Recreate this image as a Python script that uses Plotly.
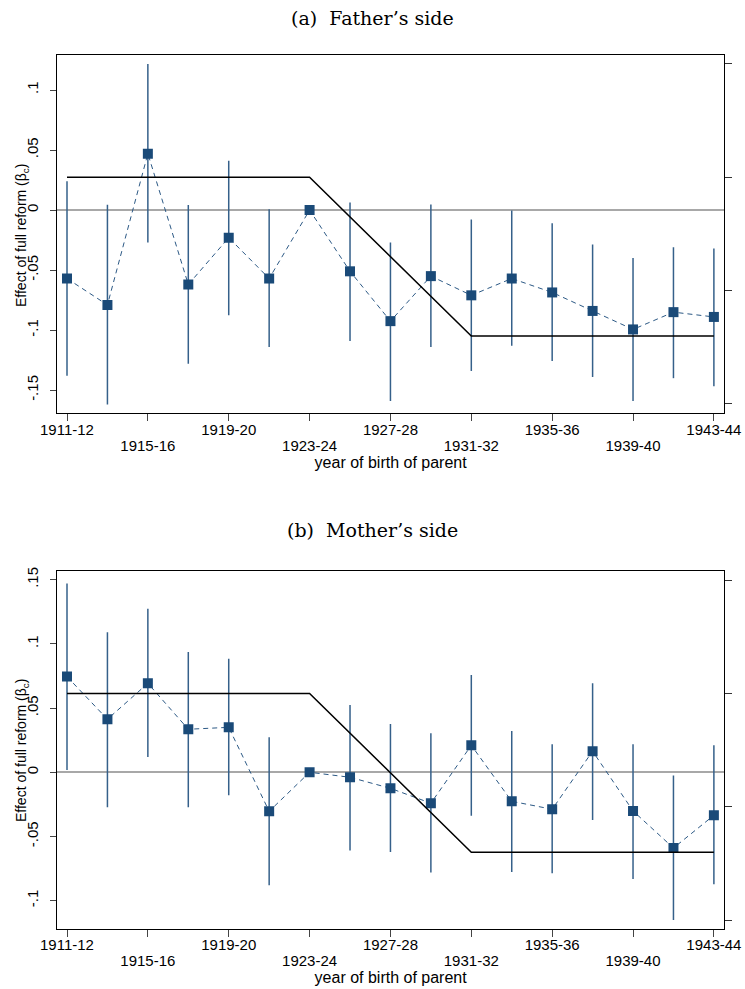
import plotly.graph_objects as go

# Birth cohorts of the parent (two-year bins)
cohorts = ["1911-12", "1913-14", "1915-16", "1917-18", "1919-20", "1921-22",
           "1923-24", "1925-26", "1927-28", "1929-30", "1931-32", "1933-34",
           "1935-36", "1937-38", "1939-40", "1941-42", "1943-44"]

# (a) Father's side: point estimates and 95% CI bounds
father_est = [-0.057, -0.079, 0.047, -0.062, -0.023, -0.057, 0.0, -0.051, -0.0925,
              -0.055, -0.071, -0.057, -0.0686, -0.084, -0.0994, -0.085, -0.089]
father_hi = [0.024, 0.0044, 0.1217, 0.0043, 0.041, 0.0006, 0.0, 0.0064, -0.027,
             0.0047, -0.0078, -0.0003, -0.011, -0.0286, -0.040, -0.031, -0.032]
father_lo = [-0.138, -0.162, -0.027, -0.128, -0.0875, -0.114, 0.0, -0.109, -0.159,
             -0.114, -0.134, -0.113, -0.1256, -0.139, -0.159, -0.140, -0.1467]

# (b) Mother's side: point estimates and 95% CI bounds
mother_est = [0.0745, 0.0413, 0.0693, 0.0335, 0.035, -0.0304, 0.0, -0.0039, -0.0125,
              -0.0241, 0.021, -0.0226, -0.0288, 0.0164, -0.0301, -0.059, -0.0335]
mother_hi = [0.147, 0.109, 0.1274, 0.0937, 0.0885, 0.0273, 0.0, 0.0524, 0.0376,
             0.0304, 0.0758, 0.0322, 0.0218, 0.0693, 0.0218, -0.0026, 0.021]
mother_lo = [0.0018, -0.0273, 0.0119, -0.0273, -0.0179, -0.088, 0.0, -0.061, -0.062,
             -0.078, -0.0338, -0.0776, -0.0787, -0.0371, -0.0831, -0.115, -0.0872]

# Reform exposure profile (right axis): vertices of the piecewise line
profile_cohorts = ["1911-12", "1923-24", "1931-32", "1943-44"]
profile_values = [1.0, 1.0, 0.3, 0.3]

# Left-axis ticks
father_ticks = [-0.15, -0.1, -0.05, 0, 0.05, 0.1]
father_ticktext = ["-.15", "-.1", "-.05", "0", ".05", ".1"]
mother_ticks = [-0.1, -0.05, 0, 0.05, 0.1, 0.15]
mother_ticktext = ["-.1", "-.05", "0", ".05", ".1", ".15"]
profile_ticks = [0, 0.5, 1, 1.5]

# Cohort positions on the x scale
pos = {c: i for i, c in enumerate(cohorts)}
x_all = [pos[c] for c in cohorts]
tick_cohorts = cohorts[::2]
row1 = tick_cohorts[0::2]   # labels on the first row
row2 = tick_cohorts[1::2]   # labels on the second row

MARKER = "#1a4a78"
CI = "#35608a"
SANS = "Liberation Sans, Arial, sans-serif"
X_RANGE = [-0.24, 16.25]

fig = go.Figure()


def add_panel(est, lo, hi, xa, ya, ya_prof, label_axes):
    fig.add_trace(go.Scatter(
        x=x_all, y=est, xaxis=xa, yaxis=ya,
        mode="lines+markers",
        line=dict(color="#2c5985", width=1, dash="5px,4px"),
        marker=dict(symbol="square", size=10, color=MARKER),
        error_y=dict(type="data", symmetric=False,
                     array=[h - e for h, e in zip(hi, est)],
                     arrayminus=[e - l for e, l in zip(est, lo)],
                     width=0, thickness=1.5, color=CI),
        showlegend=False))
    fig.add_trace(go.Scatter(
        x=[pos[c] for c in profile_cohorts], y=profile_values, xaxis=xa, yaxis=ya_prof,
        mode="lines", line=dict(color="black", width=1.5),
        showlegend=False, hoverinfo="skip"))
    # empty carriers so the label-only x axes get drawn
    for la in label_axes:
        fig.add_trace(go.Scatter(
            x=[0, 16], y=[None, None], xaxis=la, yaxis=ya, mode="markers",
            showlegend=False, hoverinfo="skip"))


add_panel(father_est, father_lo, father_hi, "x", "y", "y3", ["x3", "x4"])
add_panel(mother_est, mother_lo, mother_hi, "x2", "y2", "y4", ["x5", "x6"])

xdom = [57.3 / 745, 724 / 745]
top_dom = [1 - 413 / 989, 1 - 54.7 / 989]
bot_dom = [1 - 929.3 / 989, 1 - 570.7 / 989]


def xaxis_main(anchor):
    return dict(
        domain=xdom, anchor=anchor, range=X_RANGE, automargin=False,
        tickmode="array", tickvals=[pos[c] for c in tick_cohorts],
        showticklabels=False,
        ticks="outside", ticklen=7, tickcolor="#444", tickwidth=1,
        showline=True, mirror=True, linecolor="black", linewidth=1.3,
        showgrid=False, zeroline=False)


def xaxis_labels(over, anchor, labels, standoff, title=None):
    ax = dict(
        overlaying=over, anchor=anchor, side="bottom", range=X_RANGE, automargin=False,
        tickmode="array", tickvals=[pos[c] for c in labels], ticktext=labels,
        ticks="", ticklabelstandoff=standoff,
        tickfont=dict(family=SANS, size=15, color="black"),
        showline=False, showgrid=False, zeroline=False)
    if title:
        ax["title"] = dict(text=title, standoff=0,
                           font=dict(family=SANS, size=16, color="black"))
    return ax


def yaxis(dom, anchor, rng, tv, tt):
    return dict(
        domain=dom, anchor=anchor, range=rng, automargin=False,
        tickmode="array", tickvals=tv, ticktext=tt, tickangle=-90,
        ticks="outside", ticklen=6, tickcolor="#444", tickwidth=1,
        ticklabelstandoff=6,
        tickfont=dict(family=SANS, size=15, color="black"),
        showline=True, mirror=True, linecolor="black", linewidth=1.3,
        showgrid=False, zeroline=True, zerolinecolor="#a8a8a8", zerolinewidth=1.5)


def profile_axis(over, anchor):
    return dict(
        overlaying=over, side="right", anchor=anchor, range=[-0.04, 1.541],
        automargin=False,
        tickmode="array", tickvals=profile_ticks, showticklabels=False,
        ticks="outside", ticklen=7, tickcolor="#333", tickwidth=1,
        showline=True, linecolor="black", linewidth=1.3,
        showgrid=False, zeroline=False)


def ytitle(center_px):
    return dict(text="Effect of full reform (β<sub>c</sub>)", textangle=-90,
                x=22 / 745, y=1 - center_px / 989, xref="paper", yref="paper",
                xanchor="center", yanchor="middle", showarrow=False,
                font=dict(family=SANS, size=14, color="black"))


def panel_title(text, center_px):
    return dict(text=text, x=0.5, y=1 - center_px / 989, xref="paper", yref="paper",
                xanchor="center", yanchor="middle", showarrow=False,
                font=dict(family="DejaVu Serif, serif", size=19, color="black"))


fig.update_layout(
    width=745, height=989,
    margin=dict(l=0, r=0, t=0, b=0, autoexpand=False),
    paper_bgcolor="white", plot_bgcolor="white",
    xaxis=xaxis_main("y"),
    xaxis2=xaxis_main("y2"),
    xaxis3=xaxis_labels("x", "y", row1, 6),
    xaxis4=xaxis_labels("x", "y", row2, 22, "year of birth of parent"),
    xaxis5=xaxis_labels("x2", "y2", row1, 5),
    xaxis6=xaxis_labels("x2", "y2", row2, 21, "year of birth of parent"),
    yaxis=yaxis(top_dom, "x", [-0.169, 0.1294], father_ticks, father_ticktext),
    yaxis2=yaxis(bot_dom, "x2", [-0.1223, 0.157], mother_ticks, mother_ticktext),
    yaxis3=profile_axis("y", "x"),
    yaxis4=profile_axis("y2", "x2"),
    annotations=[
        panel_title("(a)  Father’s side", 18),
        panel_title("(b)  Mother’s side", 530),
        ytitle(236),
        ytitle(751),
    ],
)

fig.write_html("out.html")
